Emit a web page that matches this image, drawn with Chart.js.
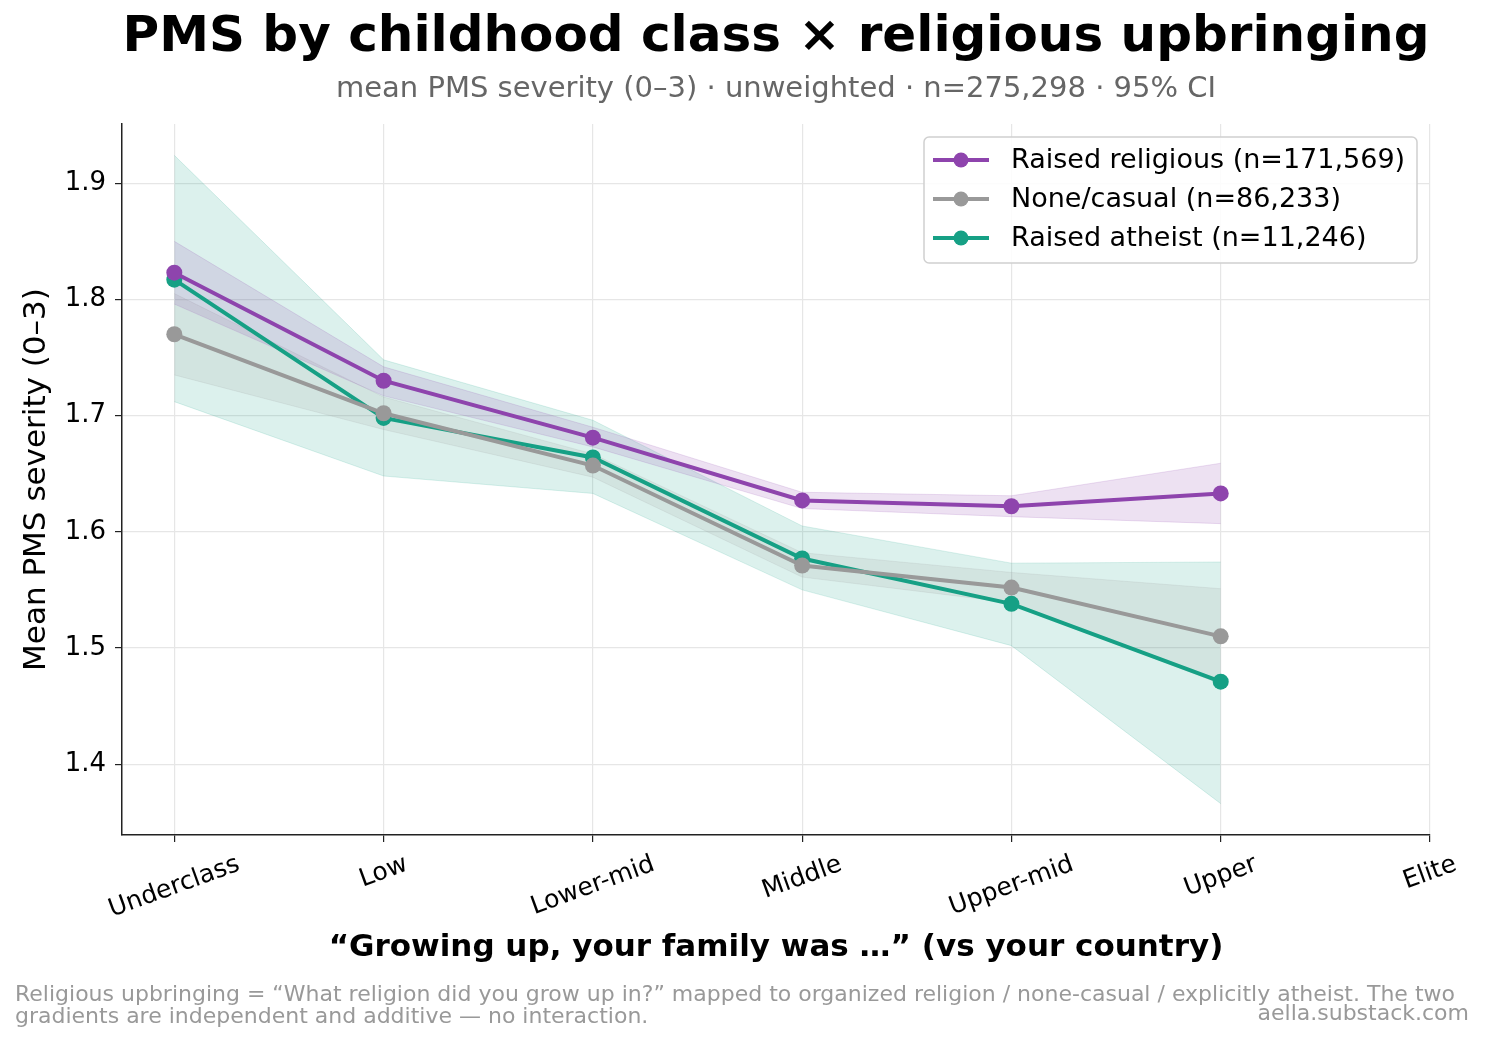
<!DOCTYPE html>
<html>
<head>
<meta charset="utf-8">
<script src="https://cdn.jsdelivr.net/npm/chart.js@4"></script>
<style>
  html, body { margin: 0; padding: 0; background: #fff; }
  #wrap { width: 1485px; height: 1043px; position: relative; }
</style>
</head>
<body>
<div id="wrap"><canvas id="pmsChart" width="1485" height="1043"></canvas></div>
<script>
// categories (x positions 0..6; Elite has no data)
const classes = ["Underclass", "Low", "Lower-mid", "Middle", "Upper-mid", "Upper", "Elite"];
const yTicks = [1.4, 1.5, 1.6, 1.7, 1.8, 1.9];

// Raised religious
const religiousMean = [1.823, 1.730, 1.681, 1.627, 1.622, 1.633];
const religiousLo   = [1.796, 1.717, 1.673, 1.620, 1.613, 1.607];
const religiousHi   = [1.850, 1.742, 1.690, 1.634, 1.631, 1.659];
// None/casual
const noneMean = [1.770, 1.702, 1.657, 1.571, 1.552, 1.510];
const noneLo   = [1.735, 1.688, 1.647, 1.561, 1.539, 1.469];
const noneHi   = [1.805, 1.716, 1.667, 1.582, 1.565, 1.551];
// Raised atheist
const atheistMean = [1.817, 1.698, 1.664, 1.577, 1.538, 1.471];
const atheistLo   = [1.712, 1.648, 1.633, 1.550, 1.502, 1.366];
const atheistHi   = [1.924, 1.748, 1.696, 1.605, 1.573, 1.574];

const groups = [
  { label: "Raised religious (n=171,569)", color: "#8e44ad", band: "rgba(142, 68, 173, 0.16)", mean: religiousMean, lo: religiousLo, hi: religiousHi },
  { label: "None/casual (n=86,233)", color: "#999999", band: "rgba(153, 153, 153, 0.16)", mean: noneMean, lo: noneLo, hi: noneHi },
  { label: "Raised atheist (n=11,246)", color: "#16a085", band: "rgba(22, 160, 133, 0.15)", mean: atheistMean, lo: atheistLo, hi: atheistHi },
];

const toPts = (arr) => arr.map((v, i) => ({ x: i, y: v }));
const FONT = "'DejaVu Sans', sans-serif";

const datasets = [];
groups.forEach((g) => {
  datasets.push({
    data: toPts(g.lo), borderWidth: 1, borderColor: g.band, pointRadius: 0, fill: false, order: 10,
  });
  datasets.push({
    data: toPts(g.hi), borderWidth: 1, borderColor: g.band, pointRadius: 0,
    fill: "-1", backgroundColor: g.band, order: 10,
  });
});
groups.forEach((g) => {
  datasets.push({
    label: g.label, data: toPts(g.mean), borderColor: g.color, backgroundColor: g.color,
    borderWidth: 4, pointRadius: 8, pointBackgroundColor: g.color, pointBorderWidth: 0,
    fill: false, order: 0,
  });
});

// texts, x tick labels and legend drawn on top
const decor = {
  id: "decor",
  afterDraw(chart) {
    const { ctx, chartArea, scales } = chart;
    const cx = (chartArea.left + chartArea.right) / 2;
    ctx.save();
    ctx.textAlign = "center";
    ctx.textBaseline = "middle";
    ctx.fillStyle = "#000";
    ctx.font = "bold 50px " + FONT;
    ctx.fillText("PMS by childhood class × religious upbringing", cx, 38);
    ctx.fillStyle = "#666";
    ctx.font = "29px " + FONT;
    ctx.fillText("mean PMS severity (0–3) · unweighted · n=275,298 · 95% CI", cx, 89);

    // x tick labels rotated 20 degrees, centred on tick
    ctx.fillStyle = "#000";
    ctx.font = "25px " + FONT;
    const ang = 20 * Math.PI / 180;
    classes.forEach((c, i) => {
      const x = scales.x.getPixelForValue(i);
      const w = ctx.measureText(c).width;
      const h = 25;
      const bh = w * Math.sin(ang) + h * Math.cos(ang);
      const y = chartArea.bottom + 17 + bh / 2;
      ctx.save();
      ctx.translate(x, y);
      ctx.rotate(-ang);
      ctx.fillText(c, 0, 0);
      ctx.restore();
    });

    ctx.font = "bold 31px " + FONT;
    ctx.fillText("“Growing up, your family was …” (vs your country)", cx, 948);

    ctx.save();
    ctx.translate(37, (chartArea.top + chartArea.bottom) / 2);
    ctx.rotate(-Math.PI / 2);
    ctx.font = "31px " + FONT;
    ctx.fillText("Mean PMS severity (0–3)", 0, 0);
    ctx.restore();

    // footer
    ctx.fillStyle = "#999";
    ctx.font = "22px " + FONT;
    ctx.textAlign = "left";
    ctx.fillText("Religious upbringing = “What religion did you grow up in?” mapped to organized religion / none-casual / explicitly atheist. The two", 15, 995);
    ctx.fillText("gradients are independent and additive — no interaction.", 15, 1017);
    ctx.textAlign = "right";
    ctx.fillText("aella.substack.com", 1469, 1014);

    // legend
    const lx = 924, ly = 137, lw = 493, lh = 126;
    ctx.fillStyle = "rgba(255,255,255,0.85)";
    ctx.strokeStyle = "#d0d0d0";
    ctx.lineWidth = 1.5;
    ctx.beginPath();
    ctx.roundRect(lx, ly, lw, lh, 5);
    ctx.fill();
    ctx.stroke();
    ctx.font = "27px " + FONT;
    ctx.textAlign = "left";
    groups.forEach((g, i) => {
      const y = 160 + i * 39;
      ctx.strokeStyle = g.color;
      ctx.lineWidth = 4;
      ctx.beginPath();
      ctx.moveTo(933, y);
      ctx.lineTo(989, y);
      ctx.stroke();
      ctx.fillStyle = g.color;
      ctx.beginPath();
      ctx.arc(961, y, 7.5, 0, Math.PI * 2);
      ctx.fill();
      ctx.fillStyle = "#000";
      ctx.fillText(g.label, 1011, y + 1);
    });
    ctx.restore();
  },
};

new Chart(document.getElementById("pmsChart").getContext("2d"), {
  type: "line",
  data: { datasets },
  options: {
    responsive: false,
    animation: false,
    layout: { padding: { left: 0, top: 124, right: 55, bottom: 0 } },
    plugins: {
      legend: { display: false },
      tooltip: { enabled: false },
      filler: { propagate: false },
    },
    scales: {
      x: {
        type: "linear",
        min: -0.25,
        max: 6,
        afterBuildTicks: (s) => { s.ticks = classes.map((c, i) => ({ value: i })); },
        afterFit: (s) => { s.height = 208; },
        ticks: { display: false },
        grid: { color: "#e6e6e6", lineWidth: 1.2, tickColor: "#222", tickLength: 7 },
        border: { color: "#222", width: 1.5 },
      },
      y: {
        min: 1.339,
        max: 1.951,
        afterBuildTicks: (s) => { s.ticks = yTicks.map((v) => ({ value: v })); },
        afterFit: (s) => { s.width = 122; },
        ticks: {
          color: "#000",
          padding: 9,
          font: { size: 26, family: FONT },
          callback: (v) => v.toFixed(1),
        },
        grid: { color: "#e6e6e6", lineWidth: 1.2, tickColor: "#222", tickLength: 7 },
        border: { color: "#222", width: 1.5 },
      },
    },
  },
  plugins: [decor],
});
</script>
</body>
</html>
